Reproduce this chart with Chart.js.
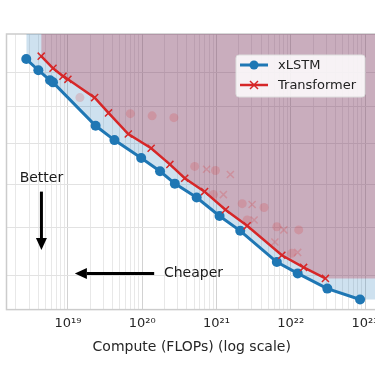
<!DOCTYPE html>
<html>
<head>
<meta charset="utf-8">
<script src="https://cdn.jsdelivr.net/npm/chart.js@4.4.1/dist/chart.umd.min.js"></script>
<style>
  html, body { margin: 0; padding: 0; background: #fff; overflow: hidden; }
  #wrap { position: relative; width: 390px; height: 374px; }
</style>
</head>
<body>
<div id="wrap"><canvas id="c" width="390" height="374"></canvas></div>
<script>
// compute (FLOPs) vs validation loss
const xlstmFlops = [2.75e18, 4.0e18, 5.75e18, 6.3e18, 2.36e19, 4.23e19, 9.7e19, 1.74e20,
    2.75e20, 5.41e20, 1.10e21, 2.09e21, 6.5e21, 1.24e22, 3.11e22, 8.58e22];
const xlstmLoss = [15.40, 15.06, 14.76, 14.70, 13.48, 13.10, 12.64, 12.31,
    12.01, 11.68, 11.26, 10.93, 10.27, 10.04, 9.74, 9.53];

const trFlops = [4.37e18, 6.3e18, 8.58e18, 1.0e19, 2.29e19, 3.52e19, 6.5e19, 1.32e20,
    2.36e20, 3.74e20, 6.92e20, 1.32e21, 2.59e21, 7.59e21, 1.49e22, 2.93e22];
const trLoss = [15.49, 15.12, 14.88, 14.79, 14.26, 13.83, 13.26, 12.89,
    12.48, 12.14, 11.82, 11.40, 11.04, 10.41, 10.16, 9.94];

// faded (non-frontier) runs
const fadedDotFlops = [1.45e19, 6.92e19, 1.36e20, 2.67e20, 5.09e20, 9.7e20, 9.12e20,
    2.22e21, 4.37e21, 2.59e21, 6.5e21, 1.28e22, 1.03e22];
const fadedDotLoss = [14.26, 13.81, 13.75, 13.70, 12.43, 12.33, 11.75,
    11.54, 11.45, 11.17, 11.02, 10.95, 10.45];
const fadedCrossFlops = [7.36e20, 1.54e21, 1.24e21, 3.02e21, 3.21e21, 8.07e21, 6.12e21, 1.24e22];
const fadedCrossLoss = [12.36, 12.23, 11.75, 11.52, 11.17, 10.95, 10.69, 10.47];

const decadeExps = [19, 20, 21, 22, 23];
const lossGrid = [10, 11, 12, 13, 14, 15];

const X_MIN = 1.49e18, X_MAX = 1.45e23;
const Y_MIN = 9.34, Y_MAX = 16.19;

const BLUE = '#1f77b4', RED = '#d62728';
const FONT = "'DejaVu Sans', sans-serif";

const pts = (xs, ys) => xs.map((x, i) => ({ x, y: ys[i] }));
const extendRight = (xs, ys) => pts(xs, ys).concat([{ x: X_MAX, y: ys[ys.length - 1] }]);

const SUP = { '0': '\u2070', '1': '\u00b9', '2': '\u00b2', '3': '\u00b3', '4': '\u2074',
    '5': '\u2075', '6': '\u2076', '7': '\u2077', '8': '\u2078', '9': '\u2079' };
const sup = n => String(n).split('').map(d => SUP[d]).join('');

// frame around the axes
const framePlugin = {
    id: 'frame',
    beforeDatasetsDraw(chart) {
        const a = chart.chartArea, ctx = chart.ctx;
        ctx.save();
        ctx.strokeStyle = '#cccccc';
        ctx.lineWidth = 1.5;
        ctx.strokeRect(a.left, a.top, a.right - a.left, a.bottom - a.top);
        ctx.restore();
    }
};

function arrow(ctx, x0, y0, x1, y1) {
    const ang = Math.atan2(y1 - y0, x1 - x0);
    const hl = 12, hw = 5.5;
    const bx = x1 - hl * Math.cos(ang), by = y1 - hl * Math.sin(ang);
    ctx.beginPath();
    ctx.moveTo(x0, y0);
    ctx.lineTo(bx, by);
    ctx.lineWidth = 3;
    ctx.strokeStyle = '#000';
    ctx.stroke();
    ctx.beginPath();
    ctx.moveTo(x1, y1);
    ctx.lineTo(bx - hw * Math.sin(ang), by + hw * Math.cos(ang));
    ctx.lineTo(bx + hw * Math.sin(ang), by - hw * Math.cos(ang));
    ctx.closePath();
    ctx.fillStyle = '#000';
    ctx.fill();
}

// "Better" / "Cheaper" annotations, positioned in data coords
const notesPlugin = {
    id: 'notes',
    afterDatasetsDraw(chart) {
        const x = chart.scales.x, y = chart.scales.y, ctx = chart.ctx;
        ctx.save();
        ctx.font = '14px ' + FONT;
        ctx.fillStyle = '#1a1a1a';
        ctx.textAlign = 'center';
        ctx.textBaseline = 'middle';
        ctx.fillText('Better', x.getPixelForValue(4.4e18), y.getPixelForValue(12.14));
        ctx.fillText('Cheaper', x.getPixelForValue(4.9e20), y.getPixelForValue(10.04));
        arrow(ctx, x.getPixelForValue(4.4e18), y.getPixelForValue(11.82),
            x.getPixelForValue(4.4e18), y.getPixelForValue(10.52));
        arrow(ctx, x.getPixelForValue(1.45e20), y.getPixelForValue(10.04),
            x.getPixelForValue(1.24e19), y.getPixelForValue(10.04));
        ctx.restore();
    }
};

// matplotlib style legend box in the upper right
const legendPlugin = {
    id: 'mplLegend',
    afterDraw(chart) {
        const a = chart.chartArea, ctx = chart.ctx;
        const w = 129, h = 42;
        const bx = a.right - 12 - w, by = a.top + 21;
        ctx.save();
        ctx.beginPath();
        ctx.roundRect(bx, by, w, h, 3);
        ctx.fillStyle = 'rgba(255,255,255,0.85)';
        ctx.fill();
        ctx.strokeStyle = '#dddddd';
        ctx.lineWidth = 1;
        ctx.stroke();
        const rows = [['xLSTM', BLUE, 'dot'], ['Transformer', RED, 'cross']];
        rows.forEach((r, i) => {
            const yy = by + 10 + i * 20;
            ctx.beginPath();
            ctx.moveTo(bx + 4, yy);
            ctx.lineTo(bx + 32, yy);
            ctx.strokeStyle = r[1];
            ctx.lineWidth = r[2] === 'dot' ? 3 : 2.5;
            ctx.stroke();
            if (r[2] === 'dot') {
                ctx.beginPath();
                ctx.arc(bx + 18, yy, 4.5, 0, Math.PI * 2);
                ctx.fillStyle = r[1];
                ctx.fill();
            } else {
                ctx.beginPath();
                ctx.moveTo(bx + 14, yy - 4); ctx.lineTo(bx + 22, yy + 4);
                ctx.moveTo(bx + 14, yy + 4); ctx.lineTo(bx + 22, yy - 4);
                ctx.lineWidth = 1.5;
                ctx.stroke();
            }
            ctx.fillStyle = '#222';
            ctx.font = '13px ' + FONT;
            ctx.textBaseline = 'middle';
            ctx.fillText(r[0], bx + 42, yy + 1);
        });
        ctx.restore();
    }
};

new Chart(document.getElementById('c'), {
    type: 'line',
    data: {
        datasets: [
            {
                label: 'xlstm-fill',
                data: extendRight(xlstmFlops, xlstmLoss),
                borderWidth: 0, borderColor: 'transparent', pointRadius: 0,
                backgroundColor: 'rgba(31,119,180,0.22)',
                fill: 'end', order: 6
            },
            {
                label: 'tr-fill',
                data: extendRight(trFlops, trLoss),
                borderWidth: 0, borderColor: 'transparent', pointRadius: 0,
                backgroundColor: 'rgba(185,25,45,0.26)',
                fill: 'end', order: 5
            },
            {
                label: 'faded-dots',
                data: pts(fadedDotFlops, fadedDotLoss),
                showLine: false, pointStyle: 'circle', pointRadius: 4.5,
                pointBackgroundColor: 'rgba(214,39,40,0.18)', pointBorderWidth: 0,
                order: 4
            },
            {
                label: 'faded-cross',
                data: pts(fadedCrossFlops, fadedCrossLoss),
                showLine: false, pointStyle: 'crossRot', pointRadius: 5,
                pointBorderColor: 'rgba(214,39,40,0.22)', pointBorderWidth: 1.5,
                order: 3
            },
            {
                label: 'xLSTM',
                data: pts(xlstmFlops, xlstmLoss),
                borderColor: BLUE, borderWidth: 3,
                pointStyle: 'circle', pointRadius: 5,
                pointBackgroundColor: BLUE, pointBorderColor: BLUE, pointBorderWidth: 0,
                fill: false, order: 2
            },
            {
                label: 'Transformer',
                data: pts(trFlops, trLoss),
                borderColor: RED, borderWidth: 2.5,
                pointStyle: 'crossRot', pointRadius: 5,
                pointBorderColor: RED, pointBorderWidth: 1.5,
                fill: false, order: 1
            }
        ]
    },
    options: {
        responsive: false,
        animation: false,
        devicePixelRatio: 1,
        layout: { padding: { left: 3, top: 34, right: 13, bottom: 18 } },
        plugins: { legend: { display: false }, tooltip: { enabled: false } },
        elements: { line: { tension: 0 } },
        scales: {
            x: {
                type: 'logarithmic',
                min: X_MIN, max: X_MAX,
                afterBuildTicks(scale) {
                    const t = [];
                    for (let e = 18; e <= 23; e++) {
                        for (let m = 1; m <= 9; m++) {
                            const v = m * Math.pow(10, e);
                            if (v >= X_MIN && v <= X_MAX) t.push({ value: v, major: m === 1 });
                        }
                    }
                    scale.ticks = t;
                },
                ticks: {
                    autoSkip: false, maxRotation: 0, padding: 6,
                    color: '#262626',
                    font: { family: FONT, size: 13 },
                    callback(value) {
                        const e = decadeExps.find(d => Math.abs(Math.log10(value) - d) < 1e-6);
                        return e === undefined ? '' : '10' + sup(e);
                    }
                },
                grid: {
                    drawTicks: false,
                    color: c => (c.tick && c.tick.major ? '#d2d2d2' : '#e8e8e8'),
                    lineWidth: 1
                },
                border: { display: false },
                title: {
                    display: true,
                    text: 'Compute (FLOPs) (log scale)',
                    color: '#262626',
                    font: { family: FONT, size: 14 },
                    padding: { top: 2, bottom: 0 }
                }
            },
            y: {
                type: 'logarithmic',
                min: Y_MIN, max: Y_MAX,
                afterBuildTicks(scale) {
                    scale.ticks = lossGrid.map(v => ({ value: v }));
                },
                ticks: { display: false },
                grid: { drawTicks: false, color: '#e2e2e2', lineWidth: 1 },
                border: { display: false }
            }
        }
    },
    plugins: [framePlugin, notesPlugin, legendPlugin]
});
</script>
</body>
</html>
